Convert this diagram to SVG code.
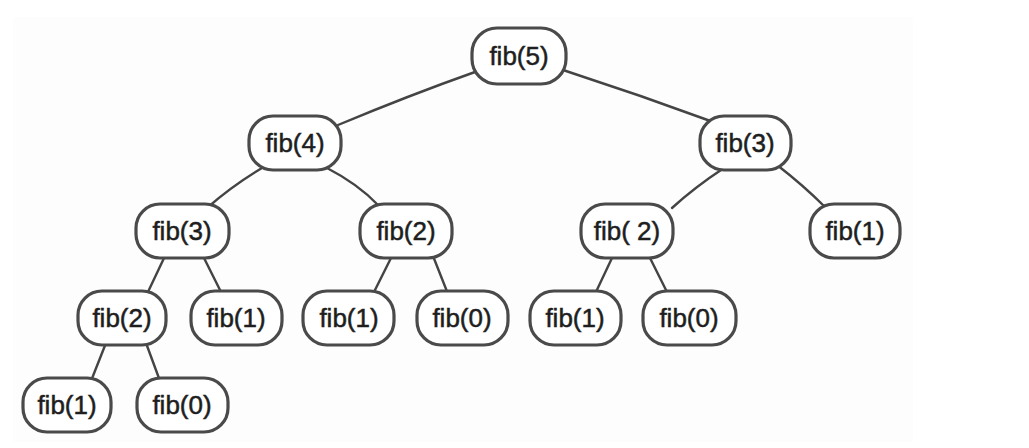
<svg xmlns="http://www.w3.org/2000/svg" width="1029" height="448" viewBox="0 0 1029 448">
<style>
.n rect{fill:#fff;stroke:#4a4a4a;stroke-width:3.2}
.n text{font-family:"Liberation Sans",Arial,sans-serif;font-size:26px;fill:#1e1e1e;stroke:#1e1e1e;stroke-width:0.5;text-anchor:middle;dominant-baseline:central}
#edges path{fill:none;stroke:#444;stroke-width:2.4;stroke-linecap:round}
</style>
<rect x="0" y="0" width="1029" height="448" fill="#fff"/>
<rect x="13" y="17" width="900" height="425" fill="#fdfdfd"/>
<g id="edges">
<path d="M475 72 Q410 95 338 125"/>
<path d="M563 70 Q640 95 716 123"/>
<path d="M262 168 Q232 186 207 208"/>
<path d="M327 168 Q358 184 378 205"/>
<path d="M724 168 Q695 187 672 208"/>
<path d="M777 165 Q803 185 825 207"/>
<path d="M165 256 L147 294"/>
<path d="M203 256 L222 294"/>
<path d="M392 256 L373 294"/>
<path d="M433 256 L448 294"/>
<path d="M612 258 L595 294"/>
<path d="M650 258 L668 294"/>
<path d="M106 343 L91 381"/>
<path d="M146 343 L160 381"/>
</g>
<g id="n-fib5" class="n"><rect x="472" y="28" width="94" height="56" rx="25"/><text x="519" y="56">fib(5)</text></g>
<g id="n-fib4" class="n"><rect x="249" y="116" width="92" height="54" rx="24"/><text x="295" y="143">fib(4)</text></g>
<g id="n-fib3r" class="n"><rect x="700" y="116" width="91" height="54" rx="24"/><text x="745" y="143">fib(3)</text></g>
<g id="n-fib3l" class="n"><rect x="136" y="204" width="93" height="54" rx="24"/><text x="182" y="231">fib(3)</text></g>
<g id="n-fib2m" class="n"><rect x="360" y="204" width="92" height="54" rx="24"/><text x="406" y="231">fib(2)</text></g>
<g id="n-fib2r" class="n"><rect x="581" y="204" width="92" height="54" rx="24"/><text x="627" y="231">fib( 2)</text></g>
<g id="n-fib1r" class="n"><rect x="810" y="204" width="90" height="54" rx="24"/><text x="855" y="231">fib(1)</text></g>
<g id="n-fib2ll" class="n"><rect x="78" y="291" width="88" height="54" rx="24"/><text x="122" y="318">fib(2)</text></g>
<g id="n-fib1a" class="n"><rect x="191" y="291" width="91" height="54" rx="24"/><text x="236" y="318">fib(1)</text></g>
<g id="n-fib1b" class="n"><rect x="303" y="291" width="91" height="54" rx="24"/><text x="349" y="318">fib(1)</text></g>
<g id="n-fib0a" class="n"><rect x="417" y="291" width="91" height="54" rx="24"/><text x="462" y="318">fib(0)</text></g>
<g id="n-fib1c" class="n"><rect x="530" y="291" width="91" height="54" rx="24"/><text x="575" y="318">fib(1)</text></g>
<g id="n-fib0b" class="n"><rect x="643" y="291" width="93" height="54" rx="24"/><text x="689" y="318">fib(0)</text></g>
<g id="n-fib1d" class="n"><rect x="23" y="378" width="88" height="54" rx="24"/><text x="67" y="405">fib(1)</text></g>
<g id="n-fib0c" class="n"><rect x="137" y="378" width="91" height="54" rx="24"/><text x="182" y="405">fib(0)</text></g>
</svg>
